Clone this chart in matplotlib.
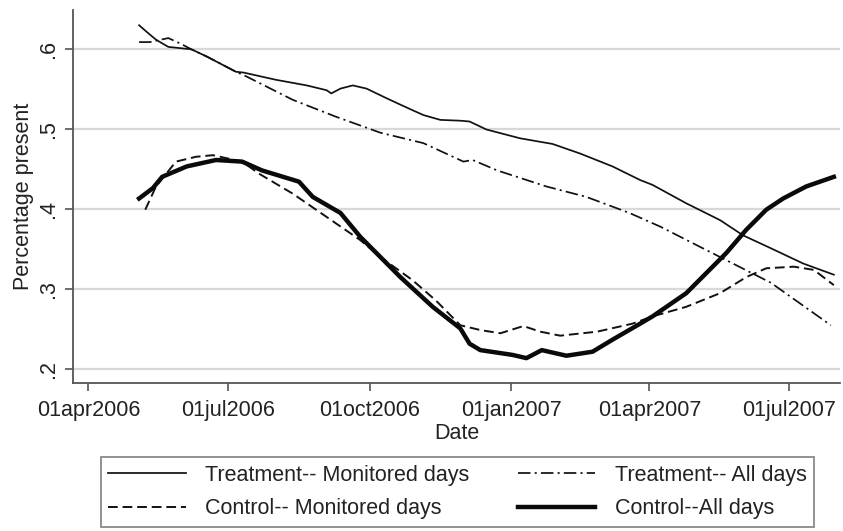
import numpy as np
import pandas as pd
import matplotlib
matplotlib.use("Agg")
import matplotlib.pyplot as plt
import matplotlib.dates as mdates

plt.rcParams['font.family'] = ['Liberation Sans', 'DejaVu Sans']
plt.rcParams['lines.scale_dashes'] = False

# Treatment -- monitored days (thin solid)
tm_dates = ["2006-05-04", "2006-05-10", "2006-05-15", "2006-05-23", "2006-06-07", "2006-06-17",
            "2006-07-06", "2006-07-11", "2006-08-01", "2006-08-21", "2006-09-03", "2006-09-06",
            "2006-09-12", "2006-09-20", "2006-09-29", "2006-10-12", "2006-10-21", "2006-10-29",
            "2006-11-05", "2006-11-16", "2006-11-29", "2006-12-05", "2006-12-16", "2007-01-07",
            "2007-01-28", "2007-02-15", "2007-03-08", "2007-03-26", "2007-04-03", "2007-04-25",
            "2007-05-17", "2007-06-01", "2007-06-19", "2007-07-10", "2007-07-30"]
tm_vals = [0.629, 0.619, 0.611, 0.602, 0.599, 0.590, 0.571, 0.570, 0.561, 0.554, 0.548, 0.544,
           0.550, 0.554, 0.550, 0.538, 0.530, 0.523, 0.517, 0.511, 0.510, 0.509, 0.499, 0.488,
           0.481, 0.469, 0.453, 0.436, 0.430, 0.407, 0.386, 0.367, 0.351, 0.332, 0.318]

# Treatment -- all days (dash-dot)
ta_dates = ["2006-05-04", "2006-05-11", "2006-05-23", "2006-05-31", "2006-06-07", "2006-06-17",
            "2006-07-06", "2006-07-13", "2006-08-12", "2006-09-09", "2006-10-08", "2006-11-05",
            "2006-12-01", "2006-12-07", "2006-12-23", "2007-01-24", "2007-02-19", "2007-03-19",
            "2007-04-08", "2007-05-17", "2007-06-19", "2007-07-28"]
ta_vals = [0.608, 0.608, 0.613, 0.606, 0.599, 0.590, 0.571, 0.565, 0.536, 0.515, 0.495, 0.482,
           0.459, 0.461, 0.448, 0.428, 0.415, 0.395, 0.378, 0.340, 0.308, 0.255]

# Control -- monitored days (dashed)
cm_dates = ["2006-05-08", "2006-05-15", "2006-05-28", "2006-06-10", "2006-06-21", "2006-07-10",
            "2006-07-21", "2006-08-12", "2006-09-03", "2006-09-25", "2006-10-08", "2006-10-29",
            "2006-11-13", "2006-11-29", "2006-12-12", "2006-12-25", "2007-01-09", "2007-01-20",
            "2007-02-02", "2007-02-26", "2007-03-21", "2007-04-03", "2007-04-25", "2007-05-17",
            "2007-06-03", "2007-06-16", "2007-07-04", "2007-07-17", "2007-07-30"]
cm_vals = [0.399, 0.428, 0.459, 0.465, 0.467, 0.459, 0.444, 0.419, 0.390, 0.361, 0.340, 0.311,
           0.286, 0.255, 0.249, 0.245, 0.254, 0.247, 0.242, 0.247, 0.257, 0.266, 0.278, 0.295,
           0.315, 0.326, 0.328, 0.324, 0.305]

# Control -- all days (thick solid)
ca_dates = ["2006-05-04", "2006-05-13", "2006-05-19", "2006-06-04", "2006-06-23", "2006-07-10",
            "2006-07-23", "2006-08-16", "2006-08-25", "2006-09-12", "2006-09-25", "2006-10-08",
            "2006-10-21", "2006-11-11", "2006-11-29", "2006-12-05", "2006-12-12", "2007-01-02",
            "2007-01-11", "2007-01-21", "2007-02-06", "2007-02-23", "2007-03-08", "2007-03-26",
            "2007-04-03", "2007-04-25", "2007-05-08", "2007-05-21", "2007-06-03", "2007-06-16",
            "2007-06-27", "2007-07-12", "2007-07-30"]
ca_vals = [0.413, 0.426, 0.440, 0.453, 0.461, 0.459, 0.448, 0.434, 0.415, 0.395, 0.365, 0.340,
           0.315, 0.278, 0.251, 0.232, 0.224, 0.218, 0.214, 0.224, 0.217, 0.222, 0.237, 0.257,
           0.266, 0.295, 0.320, 0.345, 0.374, 0.399, 0.413, 0.428, 0.440]

x_ticks = ["2006-04-01", "2006-07-01", "2006-10-01", "2007-01-01", "2007-04-01", "2007-07-01"]
y_ticks = [0.2, 0.3, 0.4, 0.5, 0.6]
y_ticklabels = [".2", ".3", ".4", ".5", ".6"]

fig = plt.figure(figsize=(8.43, 5.31), dpi=100)
ax = fig.add_axes([73 / 843, 1 - 383 / 531, (840 - 73) / 843, (383 - 10) / 531])

for y in y_ticks:
    ax.axhline(y, color='#d8d8d8', lw=1.6, zorder=0)

l1, = ax.plot(pd.to_datetime(tm_dates), tm_vals, color='#111111', lw=1.25,
              label='Treatment-- Monitored days')
l2, = ax.plot(pd.to_datetime(ta_dates), ta_vals, color='#111111', lw=1.25,
              dashes=(9, 3, 1.5, 3), label='Treatment-- All days')
l3, = ax.plot(pd.to_datetime(cm_dates), cm_vals, color='#111111', lw=1.4,
              dashes=(7, 3.5), label='Control-- Monitored days')
l4, = ax.plot(pd.to_datetime(ca_dates), ca_vals, color='#0a0a0a', lw=3.2,
              label='Control--All days')

ax.set_xlim(pd.Timestamp("2006-03-22"), pd.Timestamp("2007-08-03"))
ax.set_ylim(0.183, 0.648)

ax.set_xticks(pd.to_datetime(x_ticks))
ax.xaxis.set_major_formatter(plt.FuncFormatter(
    lambda v, p: mdates.num2date(v).strftime('%d%b%Y').lower()))
ax.set_yticks(y_ticks)
ax.set_yticklabels(y_ticklabels, rotation=90, va='center')

for s in ['top', 'right']:
    ax.spines[s].set_visible(False)
for s in ['left', 'bottom']:
    ax.spines[s].set_color('#555555')
    ax.spines[s].set_linewidth(1.3)

ax.tick_params(axis='both', labelsize=15.5, colors='#555555', labelcolor='#222222',
               length=6, width=1.2, direction='out')
ax.tick_params(axis='x', pad=6)
ax.tick_params(axis='y', pad=4)

ax.set_xlabel('Date', fontsize=15.5, color='#222222', labelpad=2)
ax.set_ylabel('Percentage present', fontsize=15.5, color='#222222', labelpad=3)

leg = fig.legend(handles=[l1, l3, l2, l4], ncol=2, loc='center',
                 bbox_to_anchor=(90 / 843, 1 - 527 / 531, (825 - 90) / 843, 70 / 531),
                 mode='expand', fontsize=15.5, handlelength=3.6, handletextpad=0.9,
                 labelspacing=0.6, borderpad=0.35, fancybox=False, frameon=True)
leg.get_frame().set_edgecolor('#777777')
leg.get_frame().set_linewidth(1.4)
for t in leg.get_texts():
    t.set_color('#222222')

fig.savefig('out.png', dpi=100)
